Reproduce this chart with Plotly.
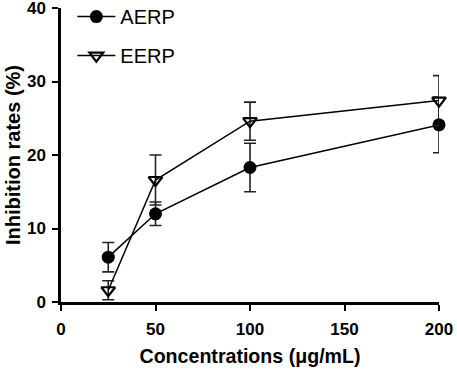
import plotly.graph_objects as go

concentrations = [25, 50, 100, 200]
aerp_values = [6.1, 12.0, 18.3, 24.1]
aerp_errors = [2.0, 1.6, 3.3, 3.8]
eerp_values = [1.6, 16.6, 24.6, 27.4]
eerp_errors = [1.3, 3.4, 2.6, 3.4]

FONT = "Liberation Sans, Arial, sans-serif"

fig = go.Figure()
fig.add_trace(go.Scatter(
    x=concentrations, y=aerp_values, name="AERP", mode="lines+markers",
    legendgroup="a",
    line=dict(color="black", width=1.5),
    marker=dict(symbol="circle", size=13, color="black"),
    error_y=dict(type="data", array=aerp_errors, color="#222", thickness=1.6, width=6),
    cliponaxis=False,
))
fig.add_trace(go.Scatter(
    x=concentrations, y=eerp_values, name="EERP", mode="lines+markers",
    legendgroup="e",
    line=dict(color="black", width=1.5),
    marker=dict(symbol="triangle-down-open", size=12, color="black", line=dict(width=2.2, color="black")),
    error_y=dict(type="data", array=eerp_errors, color="#222", thickness=1.6, width=6),
    cliponaxis=False,
))

fig.update_layout(
    width=457, height=371,
    margin=dict(l=61, r=18, t=8, b=69, autoexpand=False),
    paper_bgcolor="white", plot_bgcolor="white",
    font=dict(family=FONT, color="black"),
    showlegend=True,
    legend=dict(x=0.03, y=1.037, xanchor="left", yanchor="top",
                font=dict(size=20, family=FONT), bgcolor="rgba(0,0,0,0)",
                itemwidth=38, tracegroupgap=10),
    xaxis=dict(range=[0, 200], tickvals=[0, 50, 100, 150, 200], automargin=False,
               showgrid=False, zeroline=False, showline=True, linecolor="black", linewidth=2.5,
               ticks="outside", ticklen=6, tickwidth=2, tickcolor="black",
               ticklabelstandoff=4, ticklabeloverflow="allow",
               tickfont=dict(size=17, family=FONT, weight="bold"),
               title=dict(text="Concentrations (μg/mL)", font=dict(size=19.6, family=FONT, weight="bold"), standoff=12)),
    yaxis=dict(range=[0, 40], tickvals=[0, 10, 20, 30, 40], automargin=False,
               showgrid=False, zeroline=False, showline=True, linecolor="black", linewidth=2.5,
               ticks="outside", ticklen=6, tickwidth=2, tickcolor="black",
               ticklabelstandoff=3, ticklabeloverflow="allow",
               tickfont=dict(size=17, family=FONT, weight="bold"),
               title=dict(text="Inhibition rates (%)", font=dict(size=20, family=FONT, weight="bold"), standoff=1)),
)

fig.write_html("out.html", config={"displayModeBar": False},
               post_script="document.body.style.margin='0';document.body.style.overflow='hidden';")
